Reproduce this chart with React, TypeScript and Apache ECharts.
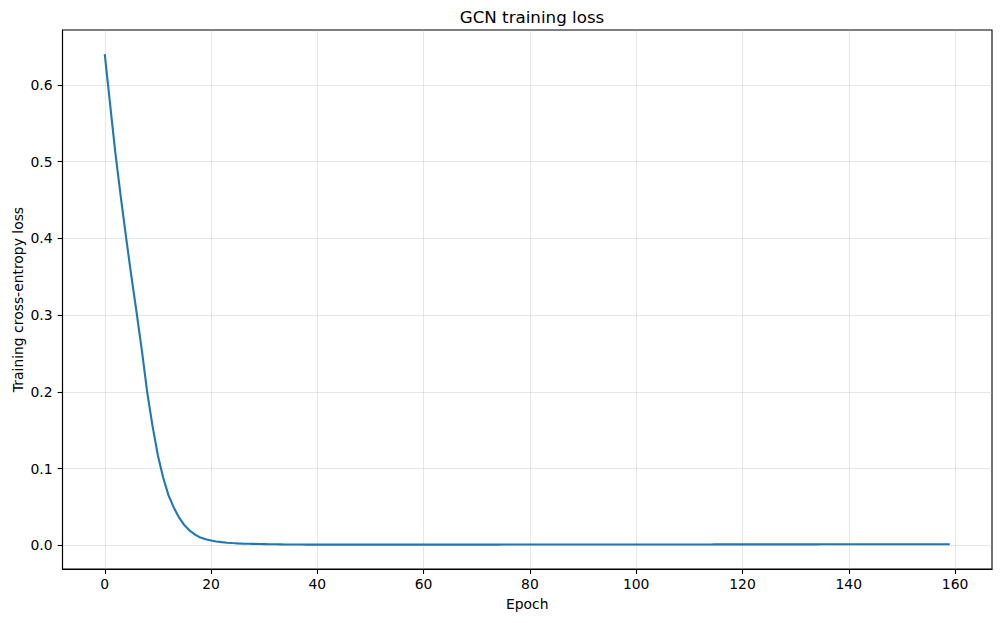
import React, { useEffect, useRef } from 'react'
import * as echarts from 'echarts'

// loss per epoch (epochs 0-29: steep drop)
const LOSS_EARLY = [
  0.640, 0.575, 0.511, 0.455, 0.402, 0.351, 0.303, 0.253, 0.199, 0.155,
  0.117, 0.088, 0.065, 0.049, 0.036, 0.026, 0.019, 0.014, 0.010, 0.0078,
  0.0062, 0.0050, 0.0041, 0.0034, 0.0029, 0.0025, 0.0022, 0.0020, 0.0018, 0.0016,
]

// epochs 30-159: flat tail near zero
const LOSS_TAIL = [
  0.0015, 0.0014, 0.0013, 0.0012, 0.0011, 0.0011, 0.0010, 0.0010, 0.0009, 0.0009,
  0.0009, 0.0009, 0.0008, 0.0008, 0.0008, 0.0008, 0.0008, 0.0008, 0.0008, 0.0008,
  0.0008, 0.0008, 0.0008, 0.0008, 0.0008, 0.0008, 0.0008, 0.0008, 0.0008, 0.0008,
  0.0008, 0.0008, 0.0008, 0.0009, 0.0009, 0.0009, 0.0009, 0.0009, 0.0009, 0.0009,
  0.0009, 0.0009, 0.0009, 0.0009, 0.0009, 0.0010, 0.0010, 0.0010, 0.0010, 0.0010,
  0.0010, 0.0010, 0.0010, 0.0010, 0.0010, 0.0010, 0.0010, 0.0010, 0.0010, 0.0010,
  0.0010, 0.0010, 0.0010, 0.0010, 0.0010, 0.0011, 0.0011, 0.0011, 0.0011, 0.0011,
  0.0011, 0.0011, 0.0011, 0.0011, 0.0011, 0.0011, 0.0011, 0.0011, 0.0011, 0.0011,
  0.0011, 0.0011, 0.0011, 0.0011, 0.0011, 0.0012, 0.0012, 0.0012, 0.0012, 0.0012,
  0.0012, 0.0012, 0.0012, 0.0012, 0.0012, 0.0012, 0.0012, 0.0012, 0.0012, 0.0012,
  0.0012, 0.0012, 0.0012, 0.0012, 0.0012, 0.0013, 0.0013, 0.0013, 0.0013, 0.0013,
  0.0013, 0.0013, 0.0013, 0.0013, 0.0013, 0.0013, 0.0013, 0.0013, 0.0013, 0.0013,
  0.0013, 0.0013, 0.0013, 0.0013, 0.0013, 0.0014, 0.0014, 0.0014, 0.0014, 0.0014,
]

const X_TICKS = [0, 20, 40, 60, 80, 100, 120, 140, 160]
const Y_TICKS = [0, 0.1, 0.2, 0.3, 0.4, 0.5, 0.6]

const FONT = 'DejaVu Sans'

export default function App() {
  const chartRef = useRef<HTMLDivElement>(null)

  useEffect(() => {
    if (!chartRef.current) return
    const chart = echarts.init(chartRef.current, undefined, { renderer: 'svg' })

    const loss = [...LOSS_EARLY, ...LOSS_TAIL]
    const points = loss.map((v, i) => [i, v])

    chart.setOption({
      animation: false,
      backgroundColor: '#ffffff',
      textStyle: { fontFamily: FONT },
      title: {
        text: 'GCN training loss',
        left: 527,
        top: 3,
        textAlign: 'center',
        textStyle: { fontFamily: FONT, fontSize: 16.7, fontWeight: 'normal', color: '#000' },
      },
      grid: {
        left: 62.5,
        right: 9,
        top: 30,
        bottom: 54,
        containLabel: false,
        outerBoundsMode: 'none',
        show: true,
        borderColor: '#000',
        borderWidth: 1.1,
        backgroundColor: 'transparent',
      },
      xAxis: {
        type: 'value',
        min: -7.95,
        max: 166.95,
        name: 'Epoch',
        nameLocation: 'middle',
        nameGap: 28,
        nameMoveOverlap: false,
        nameTextStyle: { fontFamily: FONT, fontSize: 13.9, color: '#000' },
        axisLine: { show: true, onZero: false, lineStyle: { color: '#000', width: 1.1 } },
        axisTick: {
          show: true,
          length: 4.9,
          customValues: X_TICKS,
          lineStyle: { color: '#000', width: 1.1 },
        },
        axisLabel: {
          customValues: X_TICKS,
          margin: 8,
          fontFamily: FONT,
          fontSize: 13.9,
          color: '#000',
          formatter: (v: number) => String(v),
        },
        splitLine: { show: true, lineStyle: { color: '#b0b0b0', opacity: 0.3, width: 1 } },
      },
      yAxis: {
        type: 'value',
        min: -0.0309,
        max: 0.6714,
        name: 'Training cross-entropy loss',
        nameLocation: 'middle',
        nameGap: 38,
        nameMoveOverlap: false,
        nameTextStyle: { fontFamily: FONT, fontSize: 13.9, color: '#000' },
        axisLine: { show: true, onZero: false, lineStyle: { color: '#000', width: 1.1 } },
        axisTick: {
          show: true,
          length: 4.9,
          customValues: Y_TICKS,
          lineStyle: { color: '#000', width: 1.1 },
        },
        axisLabel: {
          customValues: Y_TICKS,
          margin: 10,
          fontFamily: FONT,
          fontSize: 13.9,
          color: '#000',
          formatter: (v: number) => v.toFixed(1),
        },
        splitLine: { show: true, lineStyle: { color: '#b0b0b0', opacity: 0.3, width: 1 } },
      },
      series: [
        {
          type: 'line',
          data: points,
          showSymbol: false,
          symbol: 'none',
          lineStyle: { color: '#1f77b4', width: 2.1 },
          clip: true,
        },
      ],
    })

    return () => {
      chart.dispose()
    }
  }, [])

  return (
    <div
      ref={chartRef}
      style={{ position: 'fixed', left: 0, top: 0, width: '1001px', height: '623px' }}
    />
  )
}
